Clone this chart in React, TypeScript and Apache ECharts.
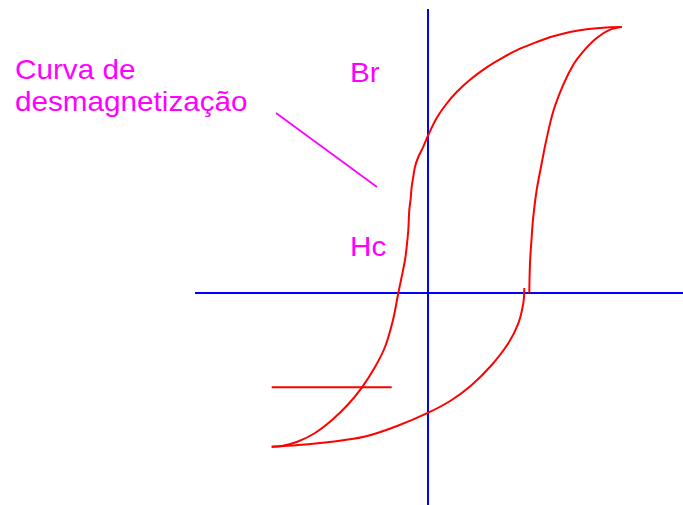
import React, { useEffect, useRef } from "react";
import * as echarts from "echarts";

// Magnetic field H (arbitrary units) and flux density B (arbitrary units)
const upperH = [19.37, 18.2, 15.87, 14.2, 12.53, 10.87, 9.2, 7.53, 5.87, 4.2, 2.87, 1.87, 0.87, 0.03, -0.47, -0.97, -1.3, -1.47, -1.63, -1.73, -1.87, -1.97, -2.13, -2.3, -2.63, -2.97, -3.5, -4.3, -5.3, -6.6, -8.0, -9.6, -11.3, -13.0, -14.6, -15.63];
const upperB = [26.6, 26.57, 26.37, 26.1, 25.67, 25.1, 24.43, 23.57, 22.57, 21.33, 20.1, 18.95, 17.5, 15.8, 14.63, 13.6, 12.63, 11.63, 10.63, 9.47, 8.3, 6.3, 4.63, 3.3, 1.63, 0, -2.7, -5.4, -7.4, -9.43, -11.15, -12.7, -14.0, -14.85, -15.3, -15.37];

const lowerH = [-15.63, -12.97, -9.63, -6.3, -2.97, 0.03, 2.37, 4.37, 6.37, 8.03, 9.03, 9.53, 9.63];
const lowerB = [-15.37, -15.2, -14.87, -14.35, -13.25, -11.97, -10.7, -9.2, -7.2, -5.03, -3.03, -1.03, 0.5];

const riseH = [10.13, 10.2, 10.37, 10.53, 10.87, 11.37, 11.8, 12.53, 13.53, 14.53, 15.53, 16.87, 18.2, 19.37];
const riseB = [0, 2.97, 5.63, 7.63, 10.3, 12.97, 15.15, 18.17, 20.83, 22.83, 24.17, 25.5, 26.33, 26.6];

const levelH = [-15.63, -3.63];
const levelB = [-9.43, -9.43];

const pointerH = [-15.2, -5.1];
const pointerB = [18.0, 10.6];

const hAxisH = [-23.3, 25.5];
const hAxisB = [0, 0];
const bAxisH = [0, 0];
const bAxisB = [28.4, -21.2];

const labelTexts = ["Curva de\ndesmagnetização", "Br", "Hc"];

const zip = (a: number[], b: number[]) => a.map((v, i) => [v, b[i]]);

export default function App() {
  const ref = useRef<HTMLDivElement>(null);
  useEffect(() => {
    if (!ref.current) return;
    const chart = echarts.init(ref.current, undefined, { renderer: "svg" });
    const red = "#ff0000";
    const blue = "#0000ff";
    const magenta = "#ff00ff";
    const lineSeries = (data: number[][], color: string, width: number, smooth: number | boolean) => ({
      type: "line",
      data,
      smooth,
      symbol: "none",
      silent: true,
      lineStyle: { color, width },
      z: 2,
    });
    const font = "28px 'Liberation Sans', Arial, sans-serif";
    chart.setOption({
      animation: false,
      backgroundColor: "#ffffff",
      grid: { left: 0, right: 0, top: 0, bottom: 0 },
      xAxis: { type: "value", min: -42.8, max: 25.5, show: false },
      yAxis: { type: "value", min: -21.2, max: 29.3, show: false },
      series: [
        { ...lineSeries(zip(hAxisH, hAxisB), blue, 2, false), z: 1 },
        { ...lineSeries(zip(bAxisH, bAxisB), blue, 2, false), z: 1 },
        lineSeries(zip(upperH, upperB), red, 2, 0.35),
        lineSeries(zip(lowerH, lowerB), red, 2, 0.35),
        lineSeries(zip(riseH, riseB), red, 2, 0.35),
        lineSeries(zip(levelH, levelB), red, 2, false),
        lineSeries(zip(pointerH, pointerB), magenta, 1.7, false),
      ],
      graphic: [
        {
          type: "text",
          x: 15,
          y: 53.7,
          scaleX: 1.06,
          style: { text: labelTexts[0], font, fill: magenta, lineHeight: 32, verticalAlign: "top" },
        },
        {
          type: "text",
          x: 350,
          y: 72.3,
          scaleX: 1.06,
          style: { text: labelTexts[1], font, fill: magenta, verticalAlign: "middle" },
        },
        {
          type: "text",
          x: 350,
          y: 246.7,
          scaleX: 1.06,
          style: { text: labelTexts[2], font, fill: magenta, verticalAlign: "middle" },
        },
      ],
    });
    return () => chart.dispose();
  }, []);
  return (
    <div
      ref={ref}
      style={{ position: "fixed", left: 0, top: 0, width: 683, height: 505, background: "#fff" }}
    />
  );
}
